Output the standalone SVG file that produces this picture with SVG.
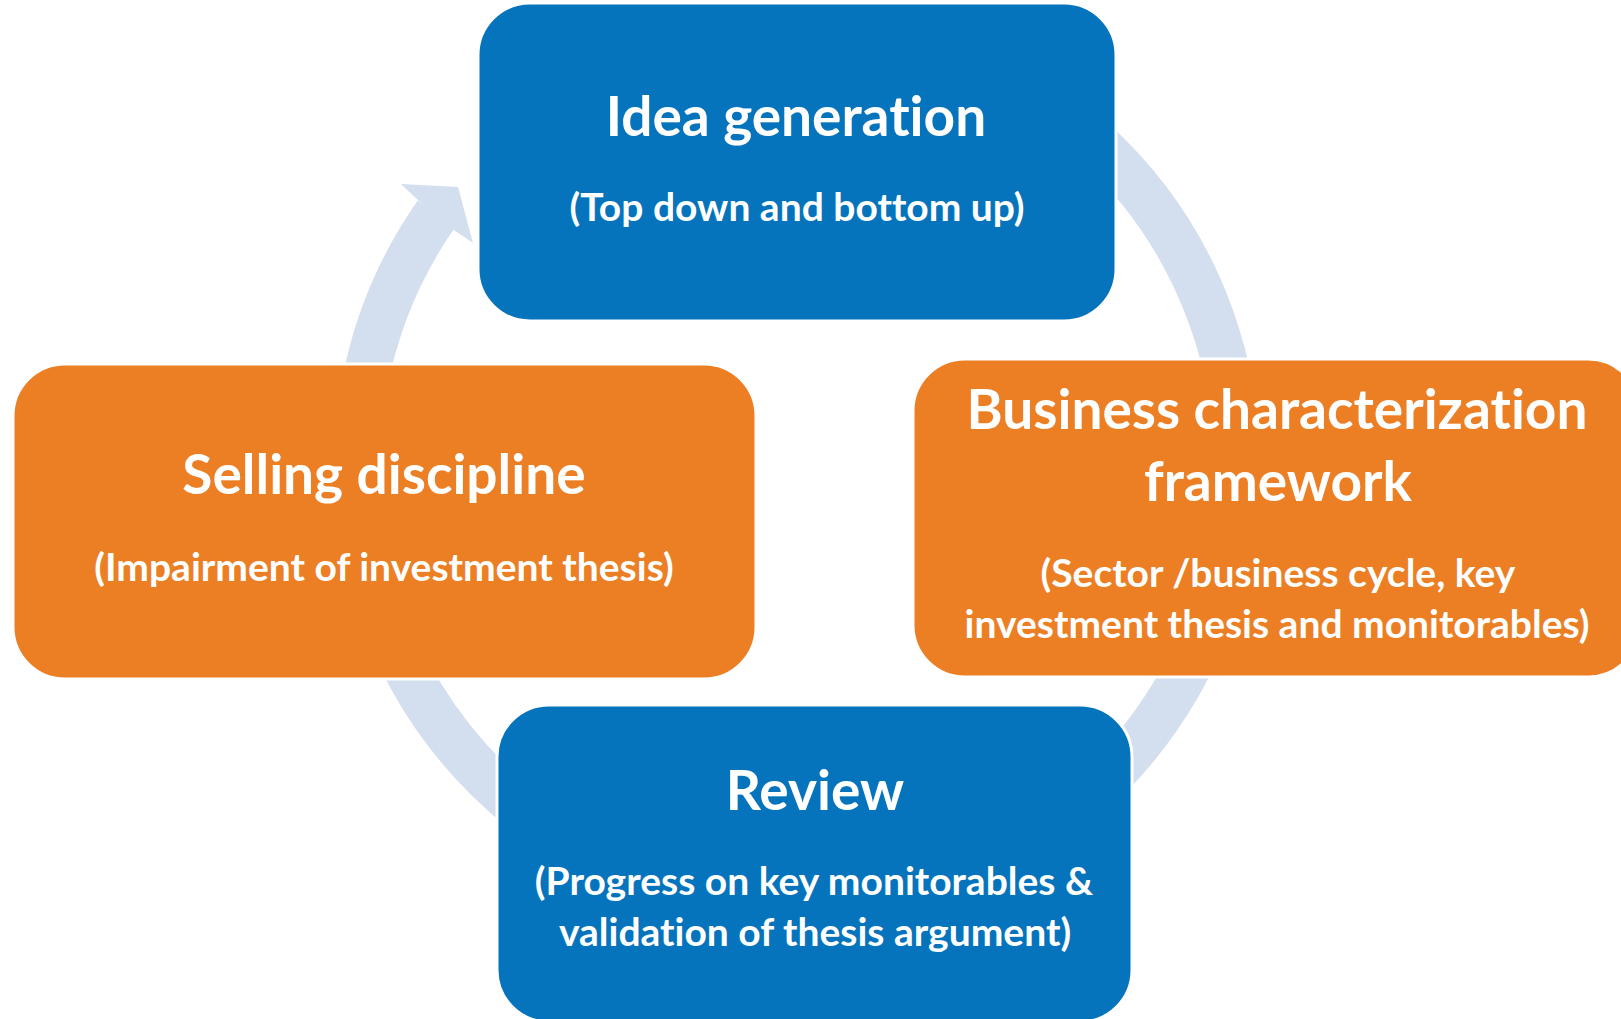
<svg xmlns="http://www.w3.org/2000/svg" width="1621" height="1019" viewBox="0 0 1621 1019">
  <style>
    .ring { fill: none; stroke: #D3DEEF; stroke-width: 46; }
    .head { fill: #D3DEEF; }
    .blue { fill: #0574BC; stroke: #FFFFFF; stroke-width: 3; }
    .orange { fill: #EC7E24; stroke: #FFFFFF; stroke-width: 3; }
    text { font-family: Lato, "Open Sans", "Liberation Sans", sans-serif; font-weight: bold; fill: #FFFFFF; text-anchor: middle; font-variant-ligatures: none; font-feature-settings: "liga" 0, "clig" 0; }
    .title { font-size: 55px; }
    .sub { font-size: 39px; }
  </style>
  <rect width="1621" height="1019" fill="#FFFFFF"/>
  <g id="connectors">
    <path class="ring" d="M 720.6 32.7 A 440 440 0 1 1 436.6 213.6"/>
    <polygon class="head" points="418,200 401,184 458,187 473,243 454,230"/>
  </g>
  <g id="idea-generation">
    <rect class="blue" x="478" y="3" width="638" height="318" rx="52" ry="52"/>
    <text class="title" x="796" y="136">Idea generation</text>
    <text class="sub" x="797" y="221">(Top down and bottom up)</text>
  </g>
  <g id="business-characterization">
    <rect class="orange" x="913" y="359" width="727" height="318" rx="52" ry="52"/>
    <text class="title" x="1277" y="429">Business characterization</text>
    <text class="title" x="1278" y="501">framework</text>
    <text class="sub" x="1278" y="587">(Sector /business cycle, key</text>
    <text class="sub" x="1277" y="638">investment thesis and monitorables)</text>
  </g>
  <g id="selling-discipline">
    <rect class="orange" x="13" y="364" width="743" height="315" rx="52" ry="52"/>
    <text class="title" x="384" y="494">Selling discipline</text>
    <text class="sub" x="384" y="581">(Impairment of investment thesis)</text>
  </g>
  <g id="review">
    <rect class="blue" x="497" y="705" width="635" height="317" rx="52" ry="52"/>
    <text class="title" x="815" y="810">Review</text>
    <text class="sub" x="814" y="895">(Progress on key monitorables &amp;</text>
    <text class="sub" x="815" y="946">validation of thesis argument)</text>
  </g>
</svg>
